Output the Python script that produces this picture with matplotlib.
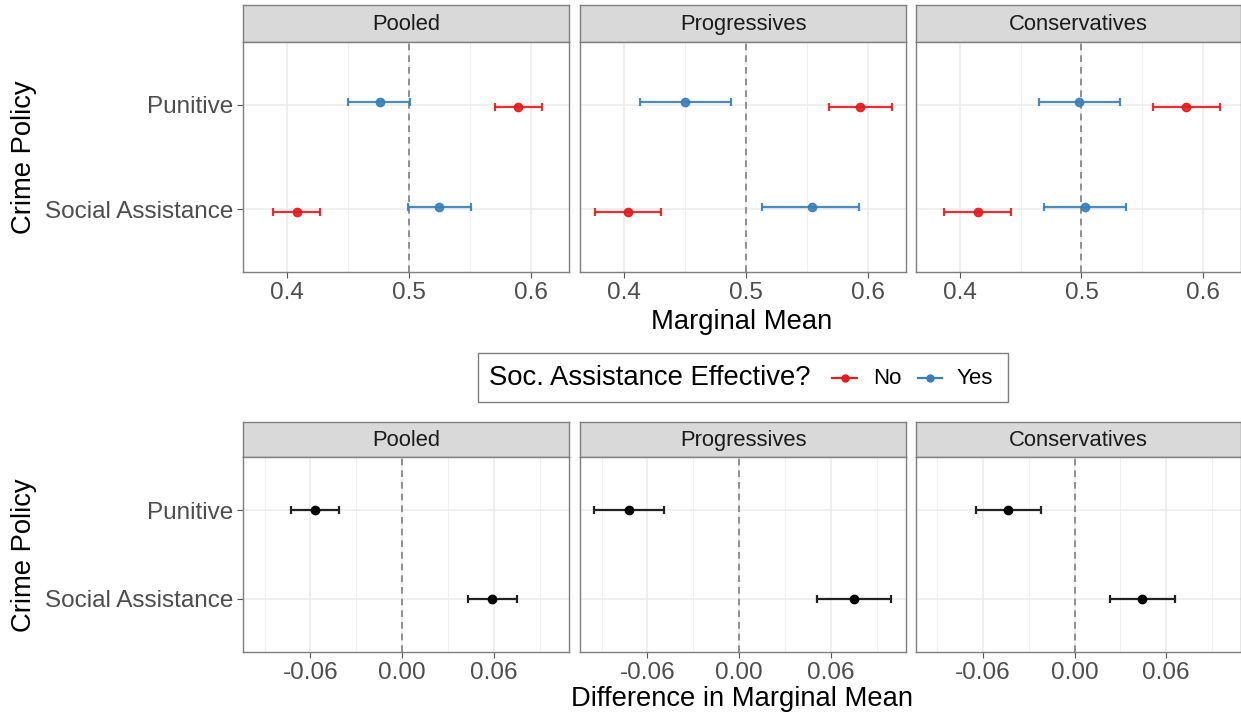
import matplotlib
matplotlib.use("Agg")
from matplotlib import pyplot as plt
from matplotlib.lines import Line2D
from matplotlib.patches import Rectangle
from matplotlib.ticker import MultipleLocator

# categories (bottom to top) and facets
categories = ["Social Assistance", "Punitive"]
groups = ["Pooled", "Progressives", "Conservatives"]

# marginal means, one value per facet (Pooled, Progressives, Conservatives)
pun_no = [0.590, 0.594, 0.586]
pun_no_lo = [0.571, 0.568, 0.559]
pun_no_hi = [0.609, 0.620, 0.614]
pun_yes = [0.476, 0.450, 0.498]
pun_yes_lo = [0.450, 0.413, 0.465]
pun_yes_hi = [0.501, 0.488, 0.532]
sa_no = [0.408, 0.403, 0.415]
sa_no_lo = [0.388, 0.376, 0.387]
sa_no_hi = [0.427, 0.430, 0.442]
sa_yes = [0.525, 0.554, 0.503]
sa_yes_lo = [0.499, 0.513, 0.469]
sa_yes_hi = [0.551, 0.593, 0.537]

# differences (Yes - No)
diff_pun = [-0.057, -0.072, -0.044]
diff_pun_lo = [-0.073, -0.095, -0.065]
diff_pun_hi = [-0.041, -0.049, -0.022]
diff_sa = [0.059, 0.075, 0.0445]
diff_sa_lo = [0.043, 0.051, 0.023]
diff_sa_hi = [0.0755, 0.0997, 0.066]

legend_title = "Soc. Assistance Effective?"
legend_labels = ["No", "Yes"]

RED = "#E41A1C"
BLUE = "#377EB8"
W, H = 1241, 717

plt.rcParams["font.family"] = ["Liberation Sans", "DejaVu Sans"]

fig = plt.figure(figsize=(W / 100, H / 100), dpi=100)


def px_axes(x0, y0, x1, y1):
    return fig.add_axes([x0 / W, 1 - y1 / H, (x1 - x0) / W, (y1 - y0) / H])


def style_panel(ax, show_ylabels):
    ax.set_facecolor("white")
    for s in ax.spines.values():
        s.set_color("#7f7f7f")
        s.set_linewidth(1.0)
    ax.grid(which="major", color="#ebebeb", linewidth=1.1)
    ax.grid(which="minor", axis="x", color="#f0f0f0", linewidth=0.7)
    ax.set_axisbelow(True)
    ax.set_ylim(0.4, 2.6)
    ax.set_yticks([1, 2])
    ax.tick_params(axis="both", which="major", length=4, color="#555555",
                   labelsize=17.5, labelcolor="#4d4d4d", pad=3)
    ax.tick_params(axis="both", which="minor", length=0)
    if show_ylabels:
        ax.set_yticklabels(categories)
    else:
        ax.set_yticklabels([])
        ax.tick_params(axis="y", length=0)


def strip(x0, y0, x1, y1, label):
    s = px_axes(x0, y0, x1, y1)
    s.set_facecolor("#d9d9d9")
    for sp in s.spines.values():
        sp.set_color("#7f7f7f")
        sp.set_linewidth(1.0)
    s.set_xticks([])
    s.set_yticks([])
    s.text(0.5, 0.47, label, ha="center", va="center", fontsize=15.8, color="#1a1a1a",
           transform=s.transAxes)


cols = [(243, 569), (580, 906), (916, 1241)]
dodge = 0.025

for i, (x0, x1) in enumerate(cols):
    # top row: marginal means
    strip(x0, 5, x1, 42, groups[i])
    ax = px_axes(x0, 42, x1, 272)
    style_panel(ax, i == 0)
    ax.set_xlim(0.3636, 0.6315)
    ax.xaxis.set_minor_locator(MultipleLocator(0.05))
    ax.set_xticks([0.4, 0.5, 0.6])
    ax.set_xticklabels(["0.4", "0.5", "0.6"])
    ax.axvline(0.5, color="#7f7f7f", linestyle=(0, (4, 3)), linewidth=1.2, zorder=1)
    for vals, lo, hi, yv, c, dy in [
        (sa_no, sa_no_lo, sa_no_hi, 1, RED, -dodge),
        (pun_no, pun_no_lo, pun_no_hi, 2, RED, -dodge),
        (sa_yes, sa_yes_lo, sa_yes_hi, 1, BLUE, dodge),
        (pun_yes, pun_yes_lo, pun_yes_hi, 2, BLUE, dodge),
    ]:
        v = vals[i]
        ax.errorbar([v], [yv + dy], xerr=[[v - lo[i]], [hi[i] - v]], fmt="o", color=c,
                    ecolor=c, elinewidth=1.6, capsize=3.2, capthick=1.6, markersize=6,
                    alpha=0.9, zorder=3)
    if i == 0:
        ax.set_ylabel("Crime Policy", fontsize=19.7, color="black")
        ax.yaxis.set_label_coords(37 / W, 1 - 157 / H, transform=fig.transFigure)

    # bottom row: differences
    strip(x0, 422, x1, 457, groups[i])
    bx = px_axes(x0, 457, x1, 652)
    style_panel(bx, i == 0)
    bx.set_xlim(-0.1041, 0.1093)
    bx.xaxis.set_minor_locator(MultipleLocator(0.03))
    bx.set_xticks([-0.06, 0.0, 0.06])
    bx.set_xticklabels(["-0.06", "0.00", "0.06"])
    bx.axvline(0.0, color="#7f7f7f", linestyle=(0, (4, 3)), linewidth=1.2, zorder=1)
    for vals, lo, hi, yv in [(diff_sa, diff_sa_lo, diff_sa_hi, 1),
                             (diff_pun, diff_pun_lo, diff_pun_hi, 2)]:
        v = vals[i]
        bx.errorbar([v], [yv], xerr=[[v - lo[i]], [hi[i] - v]], fmt="o", color="black",
                    ecolor="#222222", elinewidth=1.6, capsize=3.2, capthick=1.6,
                    markersize=6, zorder=3)
    if i == 0:
        bx.set_ylabel("Crime Policy", fontsize=19.7, color="black")
        bx.yaxis.set_label_coords(37 / W, 1 - 555 / H, transform=fig.transFigure)

fig.text(742 / W, 1 - 322 / H, "Marginal Mean", ha="center", va="center", fontsize=19.7)
fig.text(742 / W, 1 - 699 / H, "Difference in Marginal Mean", ha="center", va="center",
         fontsize=19.7)

# legend: title on the left, keys to the right, inside a box
fig.patches.append(Rectangle((478 / W, 1 - 402 / H), (1008 - 478) / W, 49 / H,
                             transform=fig.transFigure, facecolor="white",
                             edgecolor="#7f7f7f", linewidth=1.0))
fig.text(489 / W, 1 - 378 / H, legend_title, ha="left", va="center", fontsize=19.8)
key_y = 1 - 378 / H
for (kx0, kx1, tx), c, lab in zip([(832, 857, 873), (918, 942, 957)], [RED, BLUE],
                                  legend_labels):
    fig.add_artist(Line2D([kx0 / W, kx1 / W], [key_y, key_y], color=c, linewidth=1.6,
                          transform=fig.transFigure))
    fig.add_artist(Line2D([(kx0 + kx1) / 2 / W], [key_y], color=c, marker="o",
                          markersize=5, transform=fig.transFigure))
    fig.text(tx / W, key_y, lab, ha="left", va="center", fontsize=16)

fig.savefig("out.png", dpi=100)
